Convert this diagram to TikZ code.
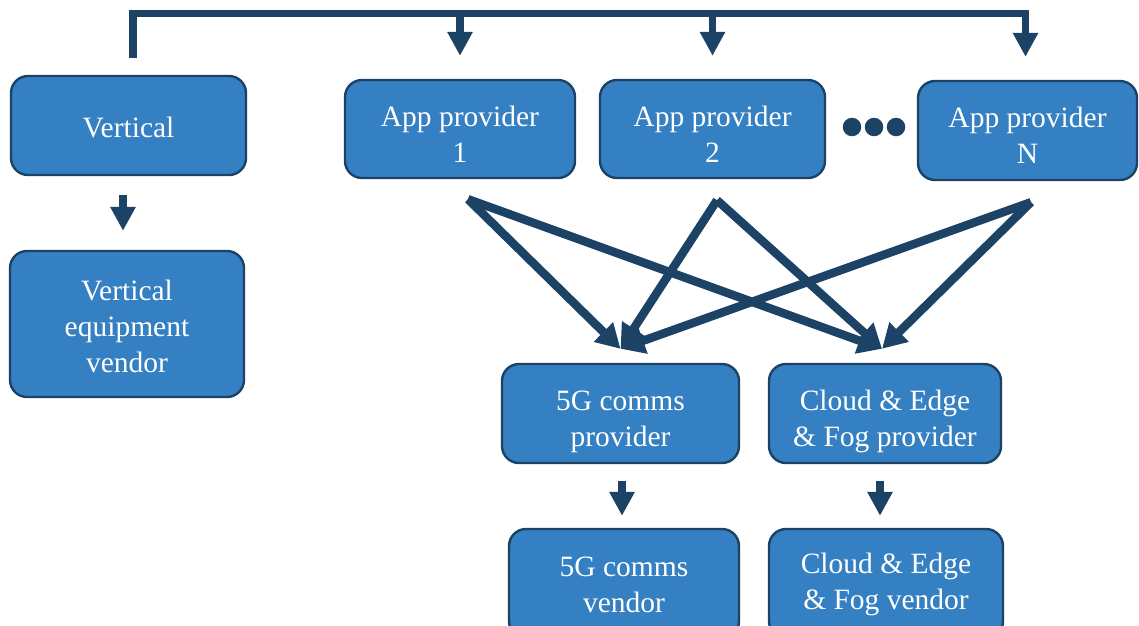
\documentclass[tikz,border=0pt]{standalone}
\usepackage{fontspec}
\setmainfont{Liberation Serif}
\usetikzlibrary{arrows.meta,calc}
\definecolor{boxfill}{RGB}{53,128,194}
\definecolor{navy}{RGB}{28,66,101}
\tikzset{
  box/.style={draw=navy, line width=2.4pt, fill=boxfill, rounded corners=17pt,
    inner sep=0pt},
  txt/.style={text=white, align=center, inner sep=0pt,
    font=\fontsize{29.5}{36}\selectfont},
  % box with its caption, the caption lowered by #1
  caption/.style 2 args={label={[txt, yshift=-#1]center:{#2}}},
  link/.style={draw=navy, line width=7.5pt, line join=miter,
    -{Triangle[width=24pt,length=24pt]}},
  cross/.style={link, line width=8.5pt, -{Triangle[width=26pt,length=24pt]}},
  dot/.style={circle, fill=navy, minimum size=18.5pt, inner sep=0pt}
}
\begin{document}
\begin{tikzpicture}[x=1pt,y=-1pt]
\useasboundingbox (0,0) rectangle (1139,625);
\clip (0,0) rectangle (1139,625);

% vertical side
\node[box, minimum width=235pt, minimum height=99pt, caption={2pt}{Vertical}] (vert) at (128.5,125.5) {};
\node[box, minimum width=234pt, minimum height=146pt, caption={2pt}{Vertical\\equipment\\vendor}] (vev) at (127,324) {};

% application providers
\node[box, minimum width=230pt, minimum height=98pt, caption={5pt}{App provider\\1}] (app1) at (460,129) {};
\node[box, minimum width=225pt, minimum height=98pt, caption={5pt}{App provider\\2}] (app2) at (712.5,129) {};
\node[box, minimum width=219pt, minimum height=99pt, caption={5pt}{App provider\\N}] (appn) at (1027.5,130.5) {};
\node[dot] (d1) at (852,127) {};
\node[dot] (d2) at (874,127) {};
\node[dot] (d3) at (896,127) {};

% infrastructure providers and vendors
\node[box, minimum width=237pt, minimum height=99pt, caption={8pt}{5G comms\\provider}] (gp) at (620.5,413.5) {};
\node[box, minimum width=232pt, minimum height=99pt, caption={8pt}{Cloud \& Edge\\\& Fog provider}] (cp) at (885,413.5) {};
\node[box, minimum width=230pt, minimum height=109pt, caption={1pt}{5G comms\\vendor}] (gv) at (624,583.5) {};
\node[box, minimum width=234pt, minimum height=109pt, caption={1pt}{Cloud \& Edge\\\& Fog vendor}] (cv) at (886,583.5) {};

% distribution bus from the vertical to every app provider
\coordinate (busstart) at ($(vert.north)+(4.5,-17)$);
\coordinate (busleft) at (busstart |- 0,13.5);
\coordinate (nin) at ($(appn.north)+(-2,0)$);
\draw[link, shorten >=23pt] (busstart) -- (busleft) -- (busleft -| nin) -- (nin);
\foreach \a in {app1,app2}
  \draw[link, shorten >=23pt] (busleft -| \a.north) -- (\a.north);

% vertical to its equipment vendor
\draw[link, shorten <=19pt, shorten >=19pt] ($(vert.south)+(-5.5,0)$) -- ($(vert.south |- vev.north)+(-5.5,0)$);

% providers to their vendors
\draw[link, shorten <=17pt, shorten >=12pt] ($(gp.south)+(1.5,0)$) -- ($(gp.south |- gv.north)+(1.5,0)$);
\draw[link, shorten <=17pt, shorten >=12pt] ($(cp.south)+(-5,0)$) -- ($(cp.south |- cv.north)+(-5,0)$);

% every app provider uses both infrastructure providers
\coordinate (s1) at ($(app1.south)+(8,20)$);
\coordinate (s2) at ($(app2.south)+(4.5,21)$);
\coordinate (sn) at ($(appn.south)+(3.5,21)$);
\coordinate (tg) at ($(gp.north)+(0,-14)$);
\coordinate (tc) at ($(cp.north)+(-3,-14)$);
\foreach \s in {s1,s2,sn}{
  \draw[cross] (\s) -- (tg);
  \draw[cross] (\s) -- (tc);
}
\end{tikzpicture}
\end{document}
